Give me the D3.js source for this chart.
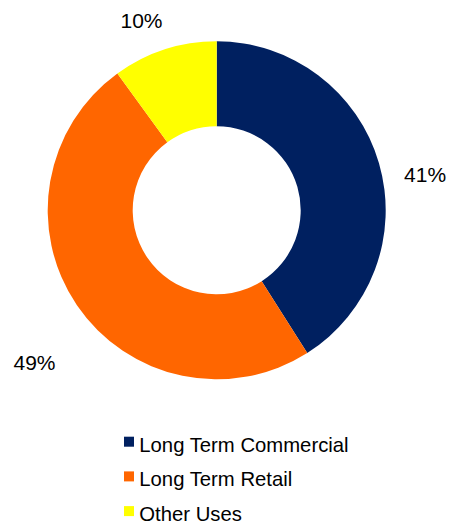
<!DOCTYPE html>
<html>
<head>
<meta charset="utf-8">
<script src="https://cdn.jsdelivr.net/npm/d3@7"></script>
<style>
  body { margin: 0; background: #fff; }
  text { font-family: "Liberation Sans", Arial, sans-serif; fill: #000; }
</style>
</head>
<body>
<script>
var categories = ["Long Term Commercial", "Long Term Retail", "Other Uses"];
var values = [41, 49, 10];
var labels = ["41%", "49%", "10%"];
var colors = ["#002060", "#FF6600", "#FFFF00"];

var width = 451, height = 524;
var cx = 216.7, cy = 210.3;
var outerR = 169, innerR = 84;

var svg = d3.select("body").append("svg")
  .attr("width", width)
  .attr("height", height);

var pie = d3.pie().sort(null).value(function (d) { return d; });
var arcs = pie(values);

var arc = d3.arc().innerRadius(innerR).outerRadius(outerR);

var g = svg.append("g")
  .attr("transform", "translate(" + cx + "," + cy + ")");

g.selectAll("path")
  .data(arcs)
  .enter().append("path")
  .attr("d", arc)
  .attr("fill", function (d, i) { return colors[i]; });

// labels sit outside the ring, nudged the way excel places them (baseline)
var labelArc = d3.arc().innerRadius(212).outerRadius(212);
var nudge = [[4.8, 31.2], [-6.9, 40.6], [-9.7, 19.6]];

g.selectAll("text.pct")
  .data(arcs)
  .enter().append("text")
  .attr("class", "pct")
  .attr("x", function (d, i) { return labelArc.centroid(d)[0] + nudge[i][0]; })
  .attr("y", function (d, i) { return labelArc.centroid(d)[1] + nudge[i][1]; })
  .attr("text-anchor", "middle")
  .style("font-size", "21px")
  .text(function (d, i) { return labels[i]; });

var legend = svg.append("g")
  .attr("transform", "translate(124,436.7)");

var row = legend.selectAll("g")
  .data(categories)
  .enter().append("g")
  .attr("transform", function (d, i) { return "translate(0," + (i * 34.7) + ")"; });

row.append("rect")
  .attr("width", 10)
  .attr("height", 10)
  .attr("fill", function (d, i) { return colors[i]; });

row.append("text")
  .attr("x", 15.3)
  .attr("y", 15)
  .style("font-size", "20.3px")
  .text(function (d) { return d; });
</script>
</body>
</html>
